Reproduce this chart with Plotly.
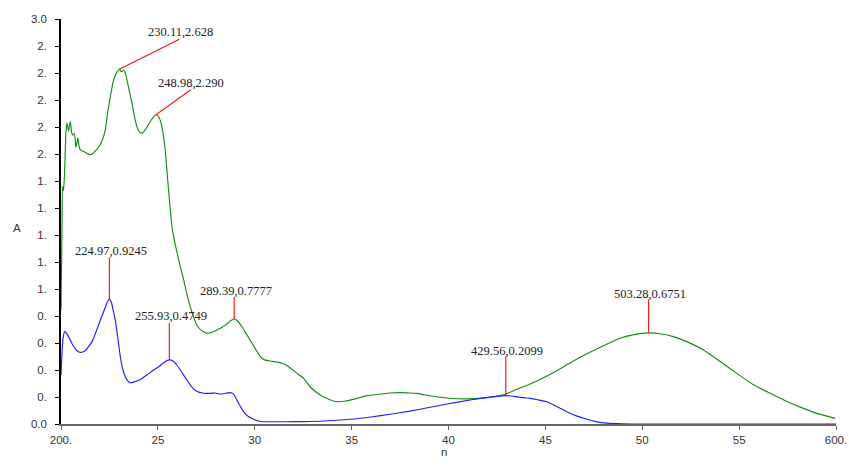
import plotly.graph_objects as go

# ---- data ----
green_nm = [200.0, 200.3, 200.5, 200.8, 201.3, 201.9, 202.5, 203.1, 203.9, 204.8, 205.4, 206.0, 206.9,
            207.7, 208.7, 209.3, 210.0, 211.5, 213.4, 215.0, 216.0, 217.5, 219.4, 221.0, 222.9, 224.0,
            225.4, 227.2, 229.0, 230.11, 231.1, 232.3, 233.2, 234.0, 235.2, 236.6, 238.0, 239.5, 240.7,
            241.8, 243.0, 244.4, 246.5, 248.98, 250.2, 251.2, 252.5, 253.8, 255.0, 256.2, 257.3, 258.5,
            259.9, 261.5, 263.3, 265.0, 266.7, 268.5, 270.2, 272.3, 274.5, 276.5, 278.7, 281.0, 283.1,
            285.5, 287.5, 289.39, 291.0, 293.4, 295.5, 297.7, 300.0, 302.8, 305.0, 308.0, 311.0, 314.0,
            317.0, 321.8, 325.2, 328.6, 331.0, 333.8, 337.0, 340.0, 343.2, 347.0, 352.7, 358.0, 364.8,
            370.0, 375.1, 380.0, 383.7, 388.0, 394.0, 399.0, 404.3, 410.0, 416.4, 423.0, 429.3, 435.0,
            442.2, 450.0, 457.7, 465.0, 471.4, 480.0, 488.6, 495.0, 503.28, 510.0, 516.1, 523.0, 531.6,
            540.0, 548.8, 557.0, 566.0, 575.0, 583.2, 591.0, 599.6]
green_abs = [0.84, 1.20, 1.41, 1.76, 1.73, 1.88, 2.15, 2.23, 2.17, 2.24, 2.17, 2.14, 2.15,
             2.05, 2.12, 2.06, 2.03, 2.02, 2.005, 1.995, 2.0, 2.02, 2.05, 2.09, 2.18, 2.30,
             2.42, 2.55, 2.61, 2.628, 2.61, 2.62, 2.60, 2.55, 2.47, 2.38, 2.27, 2.19, 2.16,
             2.155, 2.17, 2.20, 2.25, 2.290, 2.28, 2.25, 2.17, 2.03, 1.82, 1.62, 1.46, 1.36,
             1.27, 1.17, 1.07, 0.96, 0.87, 0.79, 0.73, 0.695, 0.676, 0.673, 0.684, 0.70, 0.716,
             0.74, 0.765, 0.7777, 0.765, 0.72, 0.67, 0.62, 0.565, 0.50, 0.475, 0.467, 0.46, 0.45,
             0.43, 0.375, 0.338, 0.276, 0.245, 0.215, 0.19, 0.172, 0.165, 0.17, 0.19, 0.21, 0.222,
             0.23, 0.232, 0.23, 0.227, 0.215, 0.202, 0.193, 0.187, 0.186, 0.19, 0.20, 0.22, 0.255,
             0.296, 0.35, 0.41, 0.47, 0.52, 0.58, 0.635, 0.66, 0.6751, 0.667, 0.647, 0.61, 0.548,
             0.465, 0.375, 0.295, 0.227, 0.165, 0.116, 0.075, 0.042]

blue_nm = [200.0, 200.5, 201.0, 201.9, 203.0, 203.9, 205.5, 207.5, 209.0, 210.0, 211.5, 213.0, 214.2,
           216.0, 218.0, 220.3, 222.5, 224.0, 224.97, 226.0, 227.0, 228.0, 229.3, 230.6, 231.8, 233.2,
           234.5, 235.8, 237.5, 240.9, 244.5, 247.8, 251.0, 253.5, 255.93, 258.0, 259.8, 262.5, 265.0,
           267.5, 270.2, 273.5, 277.0, 279.5, 282.2, 285.0, 287.4, 288.8, 289.9, 292.0, 294.2, 296.5,
           299.4, 302.0, 304.5, 315.0, 325.0, 335.5, 349.3, 360.0, 369.9, 380.0, 390.5, 400.0, 411.1,
           420.0, 429.56, 434.0, 438.7, 442.2, 446.0, 450.8, 455.0, 461.1, 466.0, 471.4, 476.0, 481.7,
           490.0, 500.0, 550.0, 600.0]
blue_abs = [0.363, 0.52, 0.63, 0.684, 0.67, 0.647, 0.60, 0.555, 0.535, 0.531, 0.535, 0.55, 0.573,
            0.61, 0.68, 0.77, 0.85, 0.905, 0.9245, 0.90, 0.84, 0.77, 0.64, 0.50, 0.41, 0.35,
            0.32, 0.306, 0.31, 0.33, 0.365, 0.40, 0.43, 0.46, 0.4749, 0.465, 0.437, 0.38, 0.326,
            0.275, 0.24, 0.228, 0.227, 0.23, 0.222, 0.228, 0.232, 0.225, 0.202, 0.145, 0.091, 0.057,
            0.035, 0.022, 0.017, 0.017, 0.018, 0.022, 0.035, 0.052, 0.072, 0.095, 0.124, 0.15, 0.178,
            0.197, 0.2099, 0.205, 0.195, 0.19, 0.18, 0.165, 0.135, 0.091, 0.06, 0.035, 0.018, 0.006,
            0.001, 0.0, 0.0, 0.0]

peak_nm = [230.11, 248.98, 289.39, 503.28, 224.97, 255.93, 429.56]
peak_abs = [2.628, 2.290, 0.7777, 0.6751, 0.9245, 0.4749, 0.2099]
peak_labels = ["230.11,2.628", "248.98,2.290", "289.39,0.7777", "503.28,0.6751",
               "224.97,0.9245", "255.93,0.4749", "429.56,0.2099"]

x_tickvals = [200, 250, 300, 350, 400, 450, 500, 550, 600]
x_ticktext = ["200.", "25", "30", "35", "40", "45", "50", "55", "600."]
y_tickvals = [0.0, 0.2, 0.4, 0.6, 0.8, 1.0, 1.2, 1.4, 1.6, 1.8, 2.0, 2.2, 2.4, 2.6, 2.8, 3.0]
y_ticktext = ["0.0", "0.", "0.", "0.", "0.", "1.", "1.", "1.", "1.", "1.",
              "2.", "2.", "2.", "2.", "2.", "3.0"]

# ---- label leader offsets (pixels: line end dx, dy ; text dx, dy) ----
leader = [(60, 30, 61, 37), (35, 25, 35, 32), (0, 22, 2, 28), (0, 33, 1, 39),
          (0, 42, 2, 48), (0, 37, 2, 44), (0, 39, 1, 45)]

fig = go.Figure()
fig.add_trace(go.Scatter(x=green_nm, y=green_abs, mode="lines",
                         line=dict(color="#158c15", width=1.15, shape="spline", smoothing=0.5),
                         showlegend=False, hoverinfo="skip"))
fig.add_trace(go.Scatter(x=blue_nm, y=blue_abs, mode="lines",
                         line=dict(color="#1f1fff", width=1.15, shape="spline", smoothing=0.5),
                         showlegend=False, hoverinfo="skip"))

for px, py, lab, (ldx, ldy, tdx, tdy) in zip(peak_nm, peak_abs, peak_labels, leader):
    fig.add_shape(type="line", xref="x", yref="y", xsizemode="pixel", ysizemode="pixel",
                  xanchor=px, yanchor=py, x0=0, y0=0, x1=ldx, y1=ldy,
                  line=dict(color="#ff1a1a", width=1.2))
    fig.add_annotation(x=px, y=py, xref="x", yref="y", text=lab, showarrow=False,
                       xshift=tdx, yshift=tdy, xanchor="center", yanchor="middle",
                       font=dict(family="Liberation Serif", size=12.5, color="#222"))

fig.add_annotation(text="A", xref="paper", yref="paper", x=-0.0565, y=0.485,
                   xanchor="center", yanchor="middle", showarrow=False,
                   font=dict(family="Liberation Sans", size=11.5, color="#333"))
fig.add_annotation(text="n", xref="paper", yref="paper", x=0.494, y=-0.068,
                   xanchor="center", yanchor="middle", showarrow=False,
                   font=dict(family="Liberation Sans", size=11.5, color="#333"))

fig.update_layout(
    width=849, height=466,
    margin=dict(l=61, r=13, t=19, b=42, autoexpand=False),
    paper_bgcolor="white", plot_bgcolor="white",
    font=dict(family="Liberation Sans", size=11.5, color="#333"),
    xaxis=dict(range=[200, 600], tickmode="array", tickvals=x_tickvals, ticktext=x_ticktext,
               showgrid=False, zeroline=False, showline=True, linecolor="#666", linewidth=1.5,
               ticks="outside", ticklen=4, tickcolor="#666", tickwidth=1.2, automargin=False),
    yaxis=dict(range=[0, 3.0], tickmode="array", tickvals=y_tickvals, ticktext=y_ticktext,
               showgrid=False, zeroline=False, showline=True, linecolor="#000", linewidth=1.5,
               ticks="outside", ticklen=4, tickcolor="#000", tickwidth=1.2,
               ticklabelstandoff=6, automargin=False),
)

fig.write_html("out.html", config={"displayModeBar": False},
               post_script="document.body.style.margin='0';document.body.style.overflow='hidden';")
